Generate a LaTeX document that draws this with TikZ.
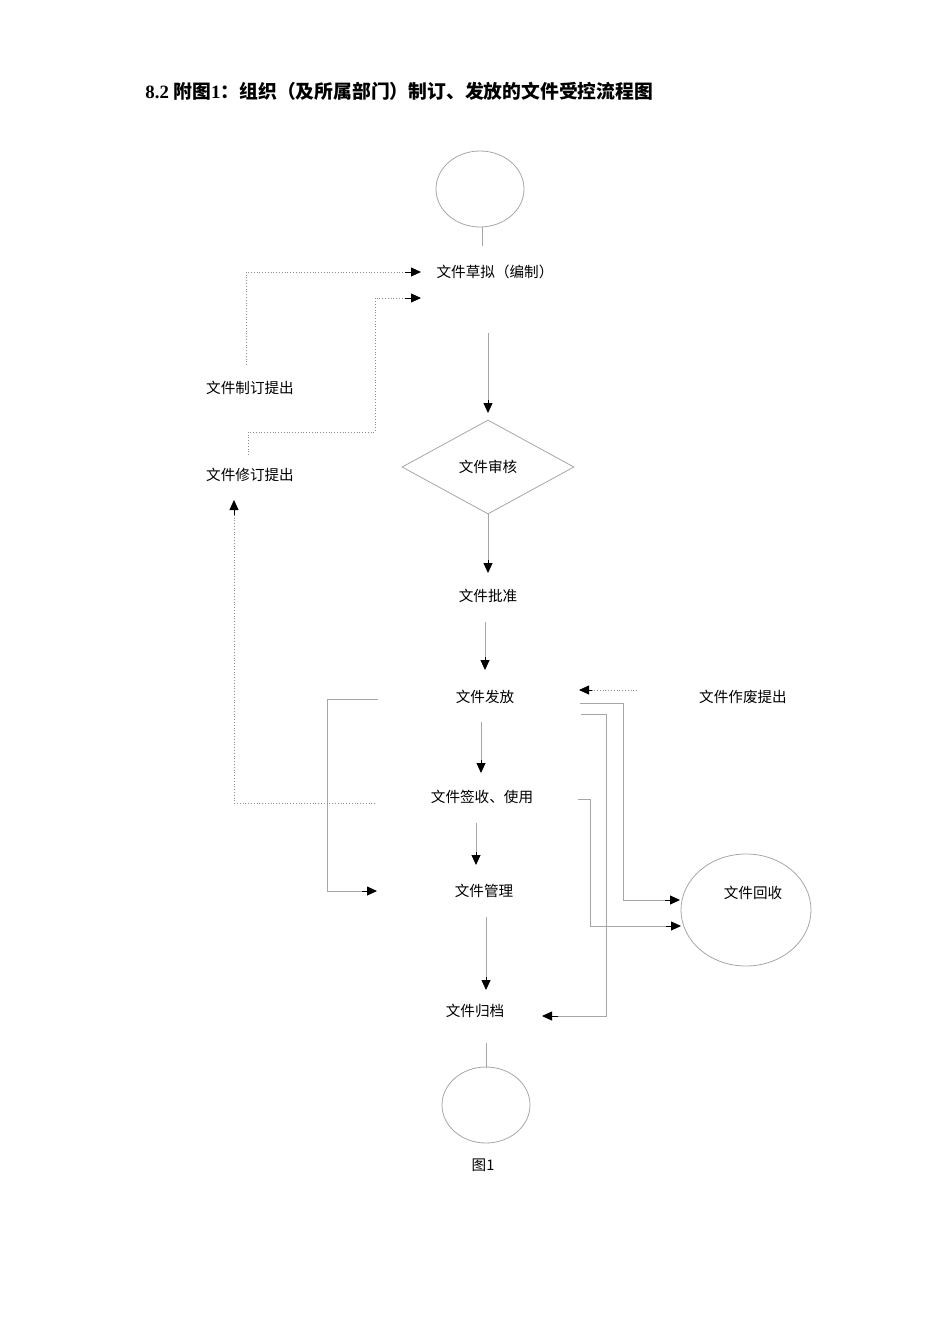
\documentclass[tikz,border=0pt]{standalone}
\usepackage{fontspec}
\setmainfont{Liberation Serif}
\newfontfamily\cjk{Noto Sans CJK SC}
\newfontfamily\cjkb{Noto Sans CJK SC Bold}
\usetikzlibrary{arrows.meta,shapes.geometric}
\begin{document}
\begin{tikzpicture}[x=0.5pt,y=-0.5pt,
  lbl/.style={font=\cjk\fontsize{7.3}{9}\selectfont,inner sep=0pt},
  ln/.style={draw=black!35,line width=0.4pt},
  dl/.style={draw=black!45,line width=0.4pt,densely dotted},
  ar/.style={-{Triangle[length=5pt,width=4.5pt]}},
  el/.style={draw=black!35,ellipse,line width=0.4pt,inner sep=0pt}]
\useasboundingbox (0,0) rectangle (950,1344);
\node[anchor=west,inner sep=0pt,font=\bfseries\fontsize{9.4}{11}\selectfont] (title) at (145,91) {8.2 {\cjkb 附图}1{\cjkb ：组织（及所属部门）制订、发放的文件受控流程图}};
\node[el,minimum width=44pt,minimum height=38pt] (start) at (480,189) {};
\node[lbl] (draft) at (495,272) {文件草拟（编制）};
\node[lbl] (prop1) at (250,388) {文件制订提出};
\node[lbl] (prop2) at (250,475) {文件修订提出};
\node[draw=black!35,diamond,aspect=1.83,minimum width=86pt,minimum height=47pt,inner sep=0pt,line width=0.4pt] (review) at (488,467) {};
\node[lbl] at (review) {文件审核};
\node[lbl] (approve) at (488,596) {文件批准};
\node[lbl] (issue) at (485,697) {文件发放};
\node[lbl] (abolish) at (743,697) {文件作废提出};
\node[lbl] (sign) at (482,797) {文件签收、使用};
\node[lbl] (manage) at (484,891) {文件管理};
\node[lbl] (archive) at (475,1011) {文件归档};
\node[el,minimum width=65pt,minimum height=56pt] (recycle) at (746,910) {};
\node[lbl] at (753,893) {文件回收};
\node[el,minimum width=44pt,minimum height=38pt] (end) at (486,1105) {};
\node[lbl] (cap) at (483,1165) {图1};
% connectors
\draw[ln] (482,227) -- (482,246);
\draw[ln] (486,1043) -- (486,1068);
\draw[dl] (246,365) -- (246,272) -- (405,272);
\draw[ar] (405,272) -- (421,272);
\draw[dl] (248,455) -- (248,432) -- (375,432) -- (375,298) -- (405,298);
\draw[ar] (405,298) -- (421,298);
\draw[ln] (488,333) -- (488,403); \draw[ar] (488,400) -- (488,413);
\draw[ln] (488,514) -- (488,563); \draw[ar] (488,560) -- (488,573);
\draw[ln] (485,622) -- (485,660); \draw[ar] (485,657) -- (485,670);
\draw[ln] (481,722) -- (481,763); \draw[ar] (481,760) -- (481,773);
\draw[ln] (476,823) -- (476,855); \draw[ar] (476,852) -- (476,865);
\draw[ln] (486,917) -- (486,980); \draw[ar] (486,977) -- (486,990);
\draw[dl] (637,690) -- (592,690); \draw[ar] (592,690) -- (579,690);
\draw[ln] (378,699) -- (327,699) -- (327,891) -- (365,891); \draw[ar] (362,891) -- (377,891);
\draw[dl] (375,803) -- (234,803) -- (234,512); \draw[ar] (234,515) -- (234,500);
\draw[ln] (580,703) -- (623,703) -- (623,900) -- (668,900); \draw[ar] (665,900) -- (680,900);
\draw[ln] (581,714) -- (606,714) -- (606,1016) -- (555,1016); \draw[ar] (558,1016) -- (542,1016);
\draw[ln] (578,799) -- (590,799) -- (590,926) -- (669,926); \draw[ar] (666,926) -- (681,926);
\end{tikzpicture}
\end{document}
